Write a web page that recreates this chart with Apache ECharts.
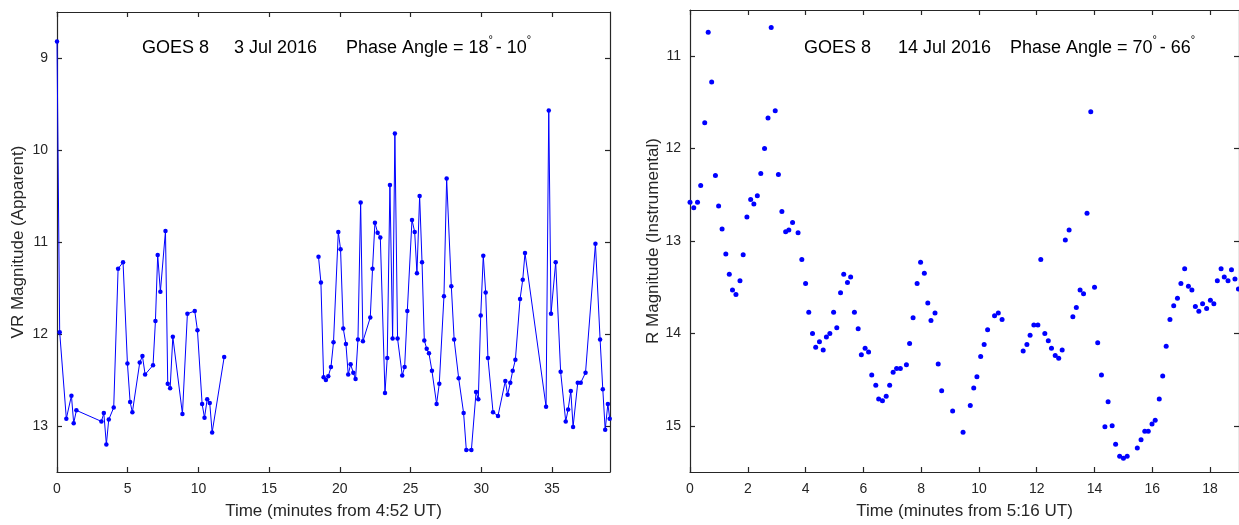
<!DOCTYPE html>
<html>
<head>
<meta charset="utf-8">
<script src="https://cdn.jsdelivr.net/npm/echarts@6/dist/echarts.min.js"></script>
<style>
html,body{margin:0;padding:0;background:#fff;}
#chart{width:1239px;height:525px;}
</style>
</head>
<body>
<div id="chart"></div>
<script>
// ---- Left panel: 3 Jul 2016 (VR magnitude, apparent) ----
const leftTimeA = [0.00,0.19,0.66,1.02,1.18,1.37,3.14,3.31,3.49,3.66,4.01,4.32,4.67,4.98,5.17,5.33,5.85,6.04,6.23,6.79,6.96,7.12,7.31,7.67,7.83,8.00,8.19,8.87,9.22,9.74,9.93,10.26,10.43,10.62,10.80,10.97,11.82];
const leftMagA  = [8.82,11.98,12.92,12.67,12.97,12.83,12.95,12.86,13.20,12.93,12.80,11.29,11.22,12.32,12.74,12.85,12.31,12.24,12.44,12.34,11.86,11.14,11.54,10.88,12.54,12.59,12.03,12.87,11.78,11.75,11.96,12.76,12.91,12.71,12.75,13.07,12.25];
const leftTimeB = [18.49,18.66,18.85,19.01,19.18,19.37,19.55,19.89,20.05,20.24,20.43,20.59,20.76,20.95,21.11,21.28,21.47,21.63,22.15,22.31,22.48,22.67,22.86,23.19,23.35,23.54,23.73,23.89,24.08,24.41,24.58,24.77,25.10,25.29,25.45,25.64,25.81,25.97,26.14,26.30,26.51,26.84,27.03,27.36,27.55,27.88,28.08,28.40,28.75,28.94,29.30,29.63,29.79,29.96,30.14,30.31,30.47,30.83,31.18,31.70,31.86,32.05,32.22,32.41,32.74,32.93,33.09,34.58,34.77,34.93,35.26,35.61,35.97,36.14,36.33,36.49,36.82,37.03,37.37,38.07,38.40,38.59,38.76,38.95,39.08];
const leftMagB  = [11.16,11.44,12.47,12.50,12.46,12.36,12.09,10.89,11.08,11.94,12.11,12.44,12.33,12.42,12.49,12.06,10.57,12.08,11.82,11.29,10.79,10.90,10.95,12.64,12.26,10.38,12.05,9.82,12.05,12.45,12.36,11.75,10.76,10.89,11.34,10.50,11.22,12.07,12.16,12.21,12.40,12.76,12.54,11.59,10.31,11.48,12.06,12.48,12.86,13.26,13.26,12.63,12.71,11.80,11.15,11.55,12.26,12.85,12.89,12.51,12.66,12.53,12.40,12.28,11.62,11.41,11.12,12.79,9.57,11.78,11.22,12.41,12.95,12.82,12.62,13.01,12.53,12.53,12.42,11.02,12.06,12.60,13.04,12.76,12.92];
const leftXTicks = [0,5,10,15,20,25,30,35];
const leftYTicks = [9,10,11,12,13];

// ---- Right panel: 14 Jul 2016 (R magnitude, instrumental) ----
const rightTime = [0.00,0.13,0.26,0.37,0.51,0.63,0.75,0.88,0.99,1.11,1.24,1.36,1.47,1.59,1.73,1.84,1.97,2.10,2.21,2.33,2.45,2.58,2.70,2.81,2.95,3.06,3.18,3.31,3.42,3.55,3.74,3.87,4.00,4.11,4.24,4.35,4.48,4.61,4.72,4.84,4.97,5.08,5.21,5.32,5.45,5.56,5.69,5.82,5.93,6.06,6.18,6.29,6.43,6.53,6.66,6.79,6.91,7.03,7.15,7.28,7.49,7.60,7.72,7.86,7.98,8.11,8.23,8.34,8.48,8.59,8.71,9.09,9.45,9.70,9.82,9.93,10.06,10.18,10.30,10.54,10.67,10.80,11.53,11.66,11.77,11.90,12.04,12.14,12.28,12.40,12.51,12.64,12.76,12.88,12.99,13.12,13.25,13.37,13.50,13.62,13.74,13.87,14.00,14.11,14.24,14.36,14.47,14.61,14.73,14.87,15.00,15.13,15.48,15.61,15.74,15.86,15.99,16.10,16.24,16.36,16.48,16.61,16.74,16.87,16.99,17.12,17.25,17.37,17.49,17.61,17.74,17.88,18.01,18.13,18.25,18.38,18.49,18.62,18.74,18.86,18.98];
const rightMag  = [12.58,12.64,12.58,12.40,11.72,10.74,11.28,12.29,12.62,12.87,13.14,13.36,13.53,13.58,13.43,13.15,12.74,12.55,12.60,12.51,12.27,12.00,11.67,10.69,11.59,12.28,12.68,12.90,12.88,12.80,12.91,13.20,13.46,13.77,14.00,14.15,14.09,14.18,14.04,14.00,13.77,13.94,13.56,13.36,13.45,13.39,13.77,13.95,14.23,14.16,14.20,14.45,14.56,14.71,14.73,14.68,14.56,14.42,14.38,14.38,14.34,14.11,13.83,13.46,13.23,13.35,13.67,13.86,13.78,14.33,14.62,14.84,15.07,14.78,14.59,14.47,14.25,14.12,13.96,13.81,13.78,13.85,14.19,14.12,14.02,13.91,13.91,13.20,14.00,14.08,14.16,14.24,14.27,14.18,12.99,12.88,13.82,13.72,13.53,13.57,12.70,11.60,13.50,14.10,14.45,15.01,14.74,15.00,15.20,15.33,15.35,15.33,15.24,15.15,15.06,15.06,14.98,14.94,14.71,14.46,14.14,13.85,13.70,13.62,13.46,13.30,13.49,13.53,13.71,13.76,13.68,13.73,13.64,13.68,13.43,13.30,13.39,13.43,13.31,13.41,13.52];
const rightXTicks = [0,2,4,6,8,10,12,14,16,18];
const rightYTicks = [11,12,13,14,15];

// Annotation text pieces
const leftNotes  = ['GOES 8', '3 Jul 2016', 'Phase Angle = 18{sup|°}{gap| }- 10{sup|°}'];
const rightNotes = ['GOES 8', '14 Jul 2016', 'Phase Angle = 70{sup|°}{gap| }- 66{sup|°}'];

const zip = (a, b) => a.map((v, i) => [v, b[i]]);

const FONT = '"Liberation Sans", Arial, sans-serif';
const AXC = '#262626';
const BLUE = '#0000ff';

function xAxisPair(gridIndex, min, max, ticks, name, isTop) {
  return {
    type: 'value', gridIndex, min, max,
    position: isTop ? 'top' : 'bottom',
    name: isTop ? '' : name,
    nameLocation: 'middle', nameGap: 31,
    nameTextStyle: { fontFamily: FONT, fontSize: 17, color: AXC },
    axisLine: { show: true, onZero: false, lineStyle: { color: AXC, width: 1.2 } },
    axisTick: { show: true, inside: true, length: 5, customValues: ticks, lineStyle: { color: AXC, width: 1.2 } },
    axisLabel: { show: !isTop, customValues: ticks, fontFamily: FONT, fontSize: 14, color: AXC, margin: 10 },
    splitLine: { show: false }
  };
}
function yAxisPair(gridIndex, min, max, ticks, name, isRight, gap) {
  return {
    type: 'value', gridIndex, min, max, inverse: true,
    position: isRight ? 'right' : 'left',
    name: isRight ? '' : name,
    nameLocation: 'middle', nameGap: gap,
    nameTextStyle: { fontFamily: FONT, fontSize: 17, color: AXC },
    axisLine: { show: true, onZero: false, lineStyle: { color: AXC, width: 1.2 } },
    axisTick: { show: true, inside: true, length: 5, customValues: ticks, lineStyle: { color: AXC, width: 1.2 } },
    axisLabel: { show: !isRight, customValues: ticks, fontFamily: FONT, fontSize: 14, color: AXC, margin: 9 },
    splitLine: { show: false }
  };
}

const noteRich = {
  sup: { fontSize: 11, verticalAlign: 'top', lineHeight: 11, fontFamily: FONT, fill: '#000', color: '#000' },
  gap: { fontSize: 10, fontFamily: FONT }
};
function noteText(txt, x) {
  return {
    type: 'text', x: x, y: 48,
    style: { text: txt, font: '18px ' + FONT, fill: '#000', verticalAlign: 'middle', align: 'left',
             lineHeight: 28, rich: noteRich }
  };
}
const leftNoteX = [142, 234, 346];
const rightNoteX = [804, 898, 1010];

const chart = echarts.init(document.getElementById('chart'), null, { renderer: 'canvas' });
chart.setOption({
  backgroundColor: '#fff',
  animation: false,
  textStyle: { fontFamily: FONT },
  graphic: [
    ...leftNotes.map((t, i) => noteText(t, leftNoteX[i])),
    ...rightNotes.map((t, i) => noteText(t, rightNoteX[i]))
  ],
  grid: [
    { left: 57, top: 12, right: 629, bottom: 51 },
    { left: 690, top: 10, right: 0, bottom: 52 }
  ],
  xAxis: [
    xAxisPair(0, 0, 39.1, leftXTicks, 'Time (minutes from 4:52 UT)', false),
    xAxisPair(0, 0, 39.1, leftXTicks, '', true),
    xAxisPair(1, 0, 19, rightXTicks, 'Time (minutes from 5:16 UT)', false),
    xAxisPair(1, 0, 19, rightXTicks, '', true)
  ],
  yAxis: [
    yAxisPair(0, 8.5, 13.5, leftYTicks, 'VR Magnitude (Apparent)', false, 30),
    yAxisPair(0, 8.5, 13.5, leftYTicks, '', true, 30),
    yAxisPair(1, 10.5, 15.5, rightYTicks, 'R Magnitude (Instrumental)', false, 27),
    yAxisPair(1, 10.5, 15.5, rightYTicks, '', true, 27)
  ],
  series: [
    { type: 'line', xAxisIndex: 0, yAxisIndex: 0, data: zip(leftTimeA, leftMagA),
      symbol: 'circle', symbolSize: 4.5, showSymbol: true,
      lineStyle: { color: BLUE, width: 1 }, itemStyle: { color: BLUE, opacity: 1 }, clip: true },
    { type: 'line', xAxisIndex: 0, yAxisIndex: 0, data: zip(leftTimeB, leftMagB),
      symbol: 'circle', symbolSize: 4.5, showSymbol: true,
      lineStyle: { color: BLUE, width: 1 }, itemStyle: { color: BLUE, opacity: 1 }, clip: true },
    { type: 'scatter', xAxisIndex: 2, yAxisIndex: 2, data: zip(rightTime, rightMag),
      symbol: 'circle', symbolSize: 5, itemStyle: { color: BLUE, opacity: 1 }, clip: true }
  ]
});
</script>
</body>
</html>
